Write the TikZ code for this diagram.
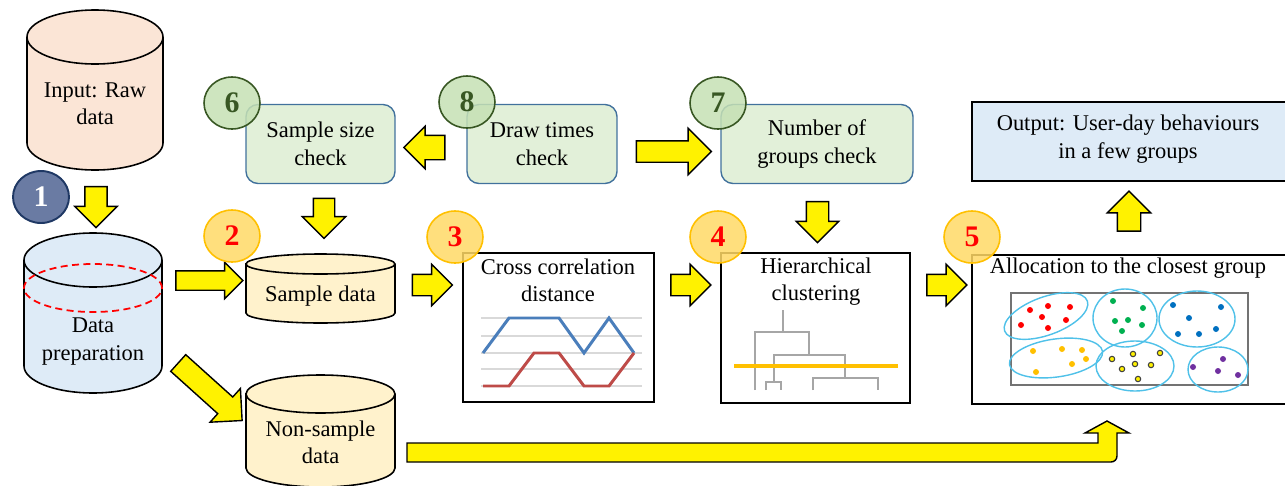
\documentclass[tikz,border=0pt]{standalone}
\usepackage{fontspec}
\setmainfont{Liberation Serif}
\usetikzlibrary{shapes.geometric,shapes.arrows,positioning,calc}

\definecolor{rawfill}{HTML}{FBE5D6}
\definecolor{prepfill}{HTML}{DEEBF7}
\definecolor{datafill}{HTML}{FFF2CC}
\definecolor{checkfill}{HTML}{E2F0D9}
\definecolor{checkline}{HTML}{41719C}
\definecolor{greennum}{HTML}{C5E0B4}
\definecolor{greendark}{HTML}{385723}
\definecolor{orangenum}{HTML}{FFD966}
\definecolor{orangeline}{HTML}{FFC000}
\definecolor{bluenum}{HTML}{6A7BA3}
\definecolor{navy}{HTML}{1F3864}
\definecolor{ringblue}{HTML}{4FC1E9}
\definecolor{chartblue}{HTML}{4A7EBB}
\definecolor{chartred}{HTML}{BE4B48}
\definecolor{dendro}{HTML}{A6A6A6}
\definecolor{dotgreen}{HTML}{00B050}
\definecolor{dotblue}{HTML}{0070C0}
\definecolor{dotpurple}{HTML}{7030A0}

\begin{document}
\begin{tikzpicture}[x=0.02cm, y=0.02cm,
    txt/.style={font=\fontsize{12.8}{15.6}\selectfont, align=center, inner sep=0pt},
    num/.style={ellipse, draw, line width=0.9pt, minimum width=1.12cm, minimum height=1.04cm, inner sep=0pt,
        font=\fontsize{17}{17}\selectfont\bfseries, fill opacity=0.85, text opacity=1},
    check/.style={txt, rectangle, rounded corners=0.24cm, draw=checkline, line width=0.8pt, fill=checkfill, minimum height=1.58cm},
    panel/.style={rectangle, draw, line width=1.1pt, fill=white},
    cyl/.style={draw, line width=0.9pt},
    ring/.style={draw=ringblue, line width=0.8pt},
    blockarrow/.style={single arrow, draw, fill=yellow, line width=0.8pt, inner sep=0pt, inner ysep=0.21cm,
        single arrow head extend=0.2cm, minimum height=0.82cm, minimum width=0.82cm}
]
    \useasboundingbox (0,0) rectangle (1285,485);
    \clip (0,0) rectangle (1285,485);

    % data stores
    \draw[cyl, fill=rawfill] (27,448) -- (27,342) arc[start angle=180, end angle=360, x radius=68, y radius=27]
        -- (163,448) arc[start angle=0, end angle=180, x radius=68, y radius=27] -- cycle;
    \draw[cyl] (27,448) arc[start angle=180, end angle=360, x radius=68, y radius=27];
    \node[txt] (raw) at (95,381.5) {Input: Raw\\data};

    \draw[cyl, fill=prepfill] (24,225) -- (24,119) arc[start angle=180, end angle=360, x radius=69, y radius=27]
        -- (162,225) arc[start angle=0, end angle=180, x radius=69, y radius=27] -- cycle;
    \draw[cyl] (24,225) arc[start angle=180, end angle=360, x radius=69, y radius=27];
    \draw[red, dash pattern=on 4pt off 2.5pt, line width=1pt] (93,197) ellipse[x radius=69, y radius=24];
    \node[txt] (prep) at (93,143.5) {Data\\preparation};

    \draw[cyl, fill=datafill] (246,221) -- (246,172) arc[start angle=180, end angle=360, x radius=74.5, y radius=10]
        -- (395,221) arc[start angle=0, end angle=180, x radius=74.5, y radius=10] -- cycle;
    \draw[cyl] (246,221) arc[start angle=180, end angle=360, x radius=74.5, y radius=10];
    \node[txt] (sample) at (320.5,189) {Sample data};

    \draw[cyl, fill=datafill] (246,91) -- (246,17) arc[start angle=180, end angle=360, x radius=74.5, y radius=19]
        -- (395,91) arc[start angle=0, end angle=180, x radius=74.5, y radius=19] -- cycle;
    \draw[cyl] (246,91) arc[start angle=180, end angle=360, x radius=74.5, y radius=19];
    \node[txt] (nonsample) at (320.5,42.5) {Non-sample\\data};

    % checks and output
    \node[check, minimum width=2.98cm] (sizechk) at (320.5,341) {Sample size\\check};
    \node[check, minimum width=3.0cm] (drawchk) at (542,341) {Draw times\\check};
    \node[check, minimum width=3.84cm] (groupchk) at (817,341) {Number of\\groups check};
    \node[draw, line width=1.1pt, fill=prepfill, minimum width=6.6cm, minimum height=1.58cm, anchor=west] (output) at (971,343.5) {};
    \node[txt] (outtxt) at (1128,346) {Output: User-day behaviours\\in a few groups};

    % cross correlation
    \node[panel, minimum width=3.82cm, minimum height=2.98cm] (xcorr) at (558.5,157.5) {};
    \node[txt] (xcorrtxt) at (558,204.5) {Cross correlation\\distance};
    \foreach \y in {167,149,132,116,99}
        \draw[black!15, line width=0.6pt] (481,\y) -- (642,\y);
    \draw[chartblue, line width=1.7pt] (483,132) -- (509,167) -- (559,167) -- (584,132) -- (609,167) -- (634,132);
    \draw[chartred, line width=1.7pt] (483,99) -- (509,99) -- (534,132) -- (559,132) -- (584,99) -- (609,99) -- (634,132);

    % hierarchical clustering
    \node[panel, minimum width=3.78cm, minimum height=3.0cm] (hier) at (815.5,157) {};
    \node[txt] (hiertxt) at (816,203.5) {Hierarchical\\clustering};
    \draw[dendro, line width=0.6pt] (783,175) -- (783,153) (755,95) -- (755,153) -- (809,153) -- (809,130)
        (774,103) -- (774,130) -- (845,130) -- (845,107) (766,95) -- (766,103) -- (781,103) -- (781,95)
        (813,95) -- (813,107) -- (878,107) -- (878,95);
    \draw[orangeline, line width=2.8pt] (734,119) -- (898,119);

    % allocation
    \node[panel, minimum width=6.6cm, minimum height=2.98cm, anchor=west] (alloc) at (971,155.5) {};
    \node[txt] (alloctxt) at (1128,217) {Allocation to the closest group};
    \draw[black!55, line width=1pt] (1011,100) rectangle (1248,192);
    \draw[ring, rotate around={20:(1046,169)}] (1046,169) ellipse[x radius=44, y radius=19];
    \draw[ring] (1125,167) ellipse[x radius=32, y radius=29];
    \draw[ring] (1197,166) ellipse[x radius=38, y radius=28];
    \draw[ring, rotate around={8:(1056,127)}] (1056,127) ellipse[x radius=47, y radius=19];
    \draw[ring] (1135,119) ellipse[x radius=39, y radius=25];
    \draw[ring] (1218,115.5) ellipse[x radius=30, y radius=22.5];
    \foreach \p in {(1030,175),(1048,179),(1070,178),(1042,168),(1066,165),(1021,160),(1048,157)}
        \fill[red] \p circle[radius=3];
    \foreach \p in {(1113,184),(1143,177),(1115,164),(1128,165),(1142,160),(1122,154)}
        \fill[dotgreen] \p circle[radius=3];
    \foreach \p in {(1173,180),(1221,178),(1189,167),(1178,151),(1199,151),(1216,156)}
        \fill[dotblue] \p circle[radius=3];
    \foreach \p in {(1033,134),(1062,136),(1082,135),(1086,126),(1072,121),(1036,113)}
        \fill[orangeline] \p circle[radius=3];
    \foreach \p in {(1112,126),(1133,131),(1160,132),(1135,121),(1151,120),(1122,116),(1138,106)}
        \filldraw[fill=yellow, draw=black!75, line width=0.6pt] \p circle[radius=2.7];
    \foreach \p in {(1223,126),(1193,118),(1218,114),(1238,110)}
        \fill[dotpurple] \p circle[radius=3];

    % block arrows
    \node[blockarrow, rotate=-90] (a1) at (96,283.5) {};
    \node[blockarrow, minimum height=1.34cm, minimum width=0.7cm, inner ysep=0.18cm, single arrow head extend=0.17cm] (a2) at (204.5,204.5) {};
    \node[blockarrow, rotate=-42, minimum height=1.72cm, minimum width=0.88cm, inner ysep=0.21cm, single arrow head extend=0.23cm] (a3) at (206,97) {};
    \node[blockarrow, minimum height=0.8cm, minimum width=0.8cm, inner ysep=0.2cm] (a4) at (427,200) {};
    \node[blockarrow, minimum height=0.8cm, minimum width=0.8cm, inner ysep=0.2cm] (a5) at (685.5,200) {};
    \node[blockarrow, minimum height=0.8cm, minimum width=0.8cm, inner ysep=0.2cm] (a6) at (941.5,200) {};
    \node[blockarrow, rotate=180, inner ysep=0.23cm, single arrow head extend=0.18cm] (a7) at (430.5,337.5) {};
    \node[blockarrow, minimum height=1.5cm, minimum width=0.9cm, inner ysep=0.2cm, single arrow head extend=0.25cm] (a8) at (668.5,333.5) {};
    \node[blockarrow, rotate=-90, minimum height=0.8cm, minimum width=0.84cm, inner ysep=0.2cm, single arrow head extend=0.22cm] (a9) at (324,272) {};
    \node[blockarrow, rotate=-90] (a10) at (817.5,268.5) {};
    \node[blockarrow, rotate=90, minimum height=0.8cm, minimum width=0.84cm, inner ysep=0.22cm] (a11) at (1129,268) {};
    \draw[fill=yellow, line width=0.8pt] (407,42) -- (1098,42) -- (1098,52) -- (1085,52) -- (1107,64) -- (1129,52) -- (1117,52)
        [rounded corners=0.12cm] -- (1117,23) [sharp corners] -- (407,23) -- cycle;

    % step numbers
    \node[num, fill=bluenum, draw=navy, text=white, fill opacity=1, line width=1.1pt] (n1) at (41,288) {1};
    \node[num, fill=orangenum, draw=orangeline, text=red] (n2) at (232,249) {2};
    \node[num, fill=orangenum, draw=orangeline, text=red] (n3) at (455,248) {3};
    \node[num, fill=orangenum, draw=orangeline, text=red] (n4) at (718,248) {4};
    \node[num, fill=orangenum, draw=orangeline, text=red] (n5) at (972,248) {5};
    \node[num, fill=greennum, draw=greendark, text=greendark] (n6) at (232,382) {6};
    \node[num, fill=greennum, draw=greendark, text=greendark] (n7) at (718,382) {7};
    \node[num, fill=greennum, draw=greendark, text=greendark] (n8) at (467,383) {8};
\end{tikzpicture}
\end{document}
